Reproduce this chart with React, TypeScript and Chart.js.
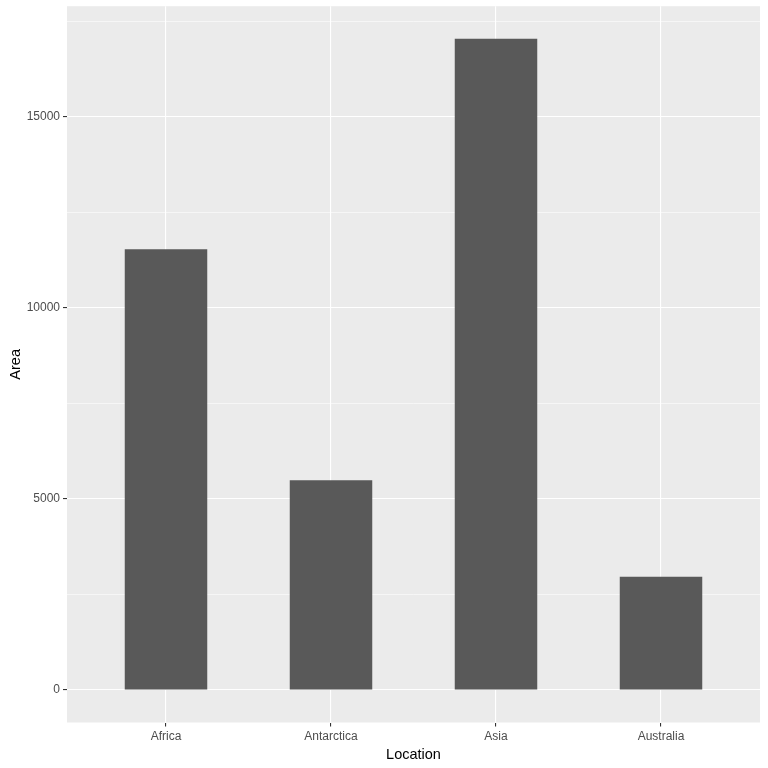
import React, { useEffect, useRef } from "react";
import { Chart, registerables } from "chart.js";

Chart.register(...registerables);

const categories = ["Africa", "Antarctica", "Asia", "Australia"];
const areaValues = [11530, 5490, 17040, 2960];
const yMajorTicks = [0, 5000, 10000, 15000];

export default function App() {
  const ref = useRef<HTMLCanvasElement | null>(null);

  useEffect(() => {
    if (!ref.current) return;
    const maxV = Math.max(...areaValues);
    const yMin = -0.05 * maxV;
    const yMax = maxV * 1.05;

    const bgPlugin = {
      id: "panelBg",
      beforeDraw(chart: any) {
        const { ctx, chartArea } = chart;
        ctx.save();
        ctx.fillStyle = "#FFFFFF";
        ctx.fillRect(0, 0, chart.width, chart.height);
        ctx.fillStyle = "#EBEBEB";
        ctx.fillRect(chartArea.left, chartArea.top, chartArea.right - chartArea.left, chartArea.bottom - chartArea.top);
        ctx.restore();
      },
    };

    const chart = new Chart(ref.current, {
      type: "bar",
      data: {
        datasets: [
          {
            data: areaValues.map((v, i) => ({ x: i, y: v })),
            backgroundColor: "#595959",
            borderWidth: 0,
            barPercentage: 0.5,
            categoryPercentage: 1,
          },
        ],
      },
      plugins: [bgPlugin],
      options: {
        animation: false,
        responsive: false,
        maintainAspectRatio: false,
        layout: { padding: { left: 0, right: 8, top: 1, bottom: 0 } },
        plugins: { legend: { display: false }, tooltip: { enabled: false } },
        scales: {
          x: {
            type: "linear",
            offset: false,
            min: -0.6,
            max: categories.length - 1 + 0.6,
            afterBuildTicks(scale: any) {
              scale.ticks = categories.map((_, i) => ({ value: i }));
            },
            afterFit(scale: any) {
              scale.height = 45.5;
            },
            ticks: {
              stepSize: 1,
              autoSkip: false,
              maxRotation: 0,
              padding: 3,
              color: "#4D4D4D",
              font: { family: "'Liberation Sans', Arial, sans-serif", size: 12 },
              callback: (v: any) => categories[Math.round(Number(v))] ?? "",
            },
            grid: {
              offset: false,
              color: "#FFFFFF",
              lineWidth: 1.1,
              tickLength: 4,
              tickColor: "#333333",
              tickWidth: 1.1,
            },
            border: { display: false },
            title: {
              display: true,
              text: "Location",
              color: "#000000",
              font: { family: "'Liberation Sans', Arial, sans-serif", size: 14.5 },
              padding: { top: 0, bottom: 4 },
            },
          },
          y: {
            type: "linear",
            min: yMin,
            max: yMax,
            afterBuildTicks(scale: any) {
              const t: any[] = [];
              for (let v = 0; v <= yMax; v += 2500) t.push({ value: v });
              scale.ticks = t;
            },
            afterFit(scale: any) {
              scale.width = 67;
            },
            ticks: {
              stepSize: 2500,
              padding: 3,
              color: "#4D4D4D",
              font: { family: "'Liberation Sans', Arial, sans-serif", size: 12 },
              callback: (v: any) => (yMajorTicks.includes(Number(v)) ? String(v) : ""),
            },
            grid: {
              color: "#FFFFFF",
              lineWidth: (c: any) => (yMajorTicks.includes(c.tick?.value) ? 1.1 : 0.55),
              tickLength: 4,
              tickColor: (c: any) => (yMajorTicks.includes(c.tick?.value) ? "#333333" : "rgba(0,0,0,0)"),
              tickWidth: 1.1,
            },
            border: { display: false },
            title: {
              display: true,
              text: "Area",
              color: "#000000",
              font: { family: "'Liberation Sans', Arial, sans-serif", size: 14.5 },
              padding: { top: 7, bottom: 0 },
            },
          },
        },
      },
    } as any);
    return () => chart.destroy();
  }, []);

  return (
    <div style={{ position: "absolute", left: 0, top: 0, width: 768, height: 768, overflow: "hidden", background: "#fff" }}>
      <canvas
        ref={ref}
        width={768}
        height={772}
        style={{ position: "absolute", left: 0, top: -4, width: 768, height: 772, display: "block" }}
      />
    </div>
  );
}
